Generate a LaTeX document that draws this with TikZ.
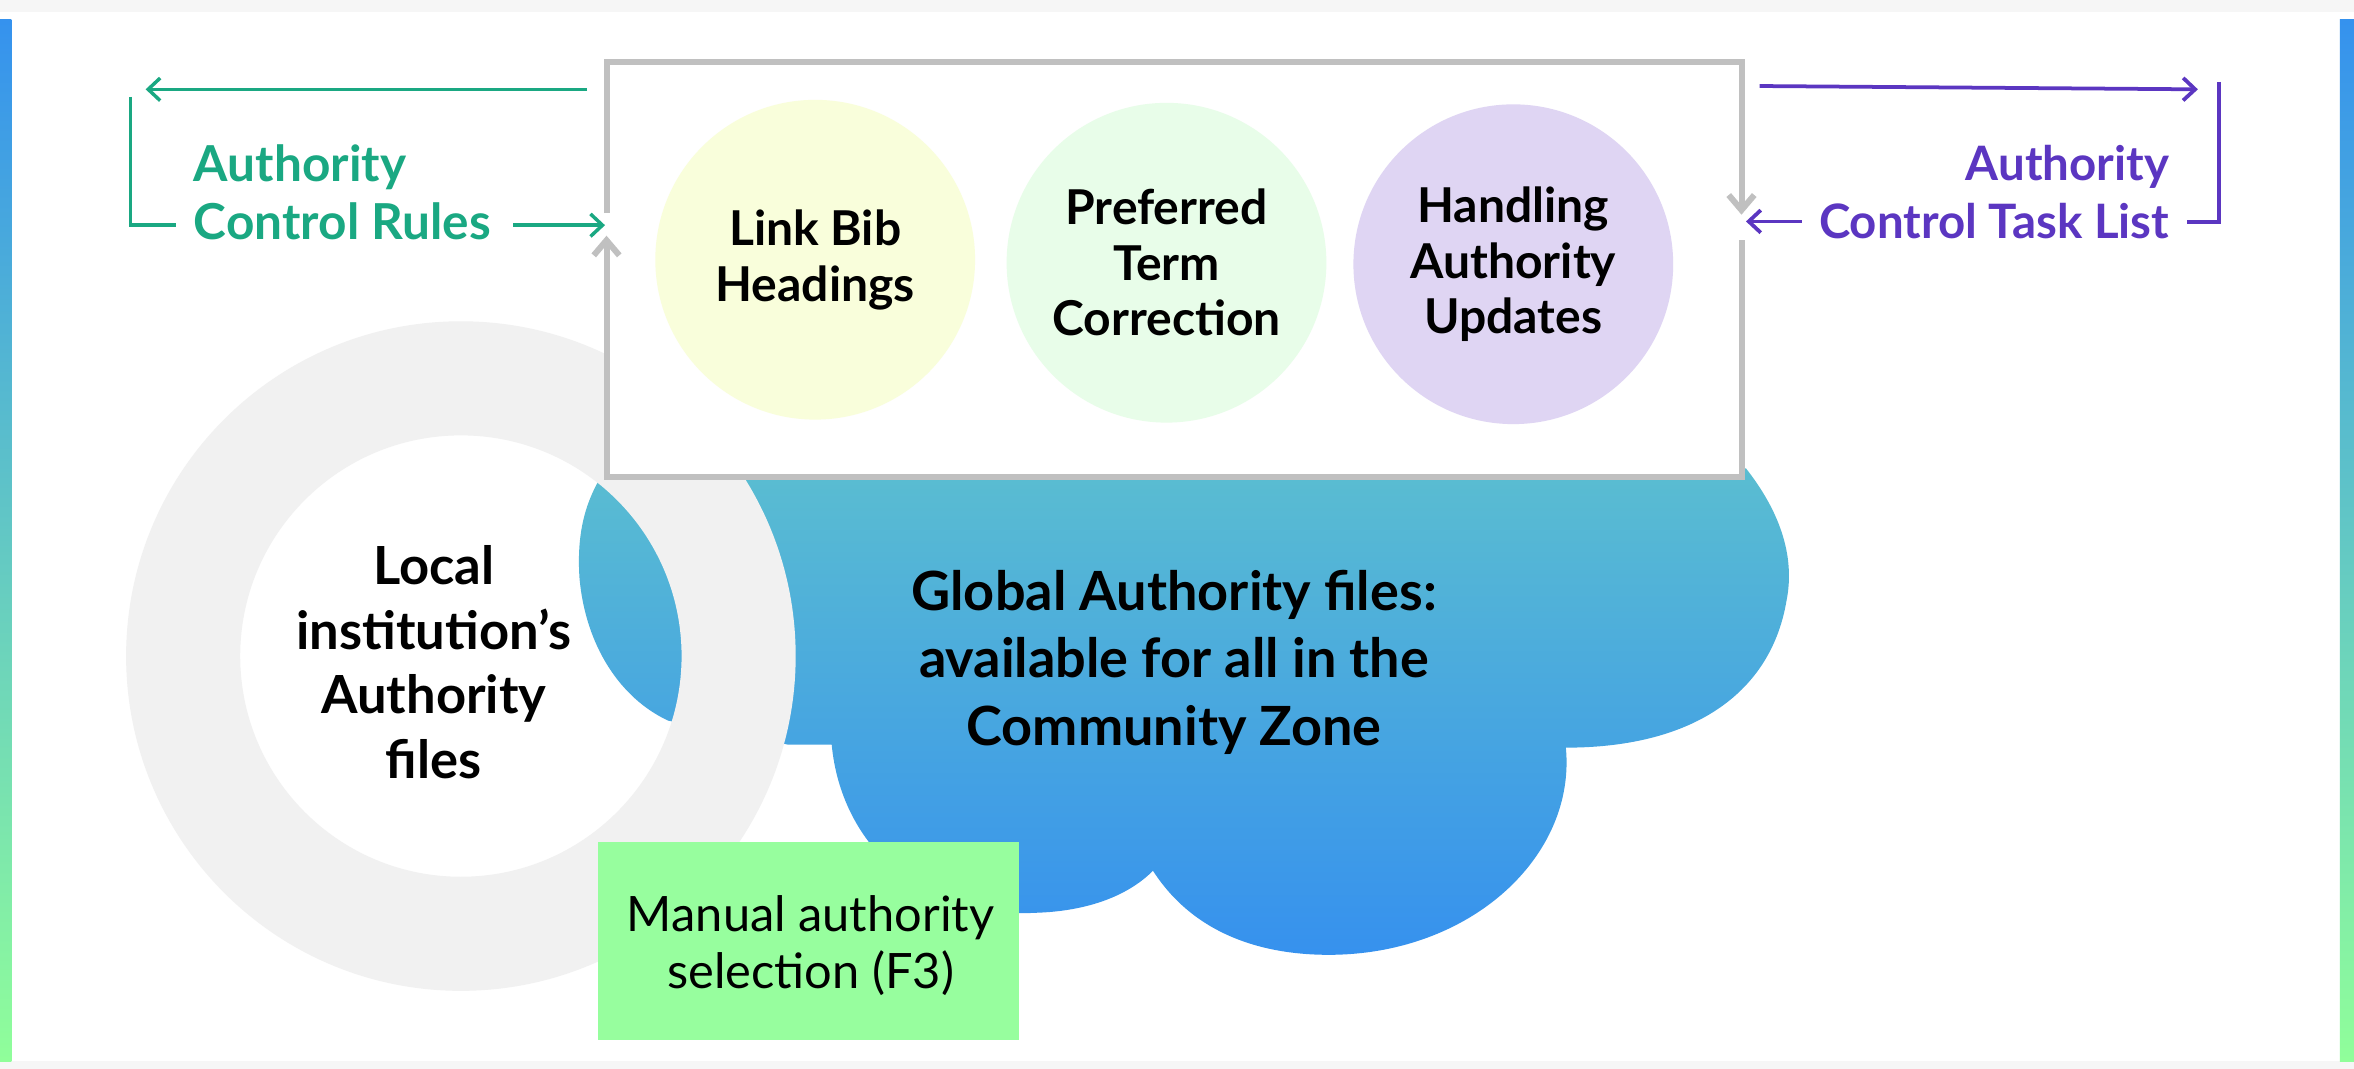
\documentclass[tikz,border=0pt]{standalone}
\usepackage{fontspec}
\setmainfont{Lato}
\usetikzlibrary{arrows.meta}
\definecolor{tgreen}{RGB}{26,168,130}
\definecolor{tpurple}{RGB}{91,54,193}
\definecolor{boxgray}{RGB}{192,192,192}
\definecolor{ringgray}{RGB}{241,241,241}
\definecolor{cyellow}{RGB}{249,254,219}
\definecolor{cmint}{RGB}{232,253,233}
\definecolor{clav}{RGB}{223,213,243}
\definecolor{cloudtop}{RGB}{90,189,209}
\definecolor{cloudbot}{RGB}{54,145,238}
\definecolor{manualgreen}{RGB}{151,254,158}
\definecolor{barblue}{RGB}{53,146,238}
\definecolor{bargreen}{RGB}{144,254,154}
\definecolor{pagegray}{RGB}{246,246,246}
\begin{document}
\begin{tikzpicture}[x=1pt,y=-1pt,
  circ/.style={circle, minimum size=213pt, inner sep=0pt, align=center,
    font=\bfseries\fontsize{32}{37}\selectfont},
  gline/.style={draw=tgreen, line width=2.3pt},
  pline/.style={draw=tpurple, line width=2.5pt},
  boxline/.style={draw=boxgray, line width=4pt},
  gtip/.style={-{Straight Barb[length=8pt,width=15pt,line width=2.3pt]}},
  ptip/.style={-{Straight Barb[length=8pt,width=15pt,line width=2.5pt]}},
  btip/.style={-{Straight Barb[length=10pt,width=17pt,line width=4pt]}},
  lbl/.style={inner sep=0pt, font=\bfseries\fontsize{33}{39}\selectfont}
]
\useasboundingbox (0,0) rectangle (1568,712);
% page
\fill[pagegray] (0,0) rectangle (1568,712);
\fill[white] (0,8) rectangle (1568,707);
\shade[top color=barblue, bottom color=bargreen] (0,13) rectangle (7.5,707);
\shade[top color=barblue, bottom color=bargreen] (1558.5,13) rectangle (1568,707);

% cloud
\shade[top color=cloudtop, bottom color=cloudbot]
  (400,312) -- (1163,312)
  .. controls (1185,340) and (1196,370) .. (1190,400)
  .. controls (1180,460) and (1130,498) .. (1043,498)
  .. controls (1050,570) and (980,636) .. (885,636)
  .. controls (840,636) and (795,622) .. (768,580)
  .. controls (750,598) and (722,607) .. (690,608)
  .. controls (610,612) and (560,560) .. (554,496)
  -- (525,496) -- (445,480)
  .. controls (413,465) and (390,430) .. (386,385)
  .. controls (384,355) and (390,335) .. (400,318) -- cycle;

% ring
\fill[ringgray, even odd rule] (307,437) circle (223) (307,437) circle (147);

% box
\node[fill=white, minimum width=756pt, minimum height=277pt, inner sep=0pt] (box) at (782,179.5) {};
\coordinate (bA) at (404,142);
\coordinate (bB) at (404,41);
\coordinate (bC) at (1160,41);
\coordinate (bD) at (1160,143);
\coordinate (bE) at (1160,160);
\coordinate (bF) at (1160,318);
\coordinate (bG) at (404,318);
\coordinate (bH) at (404,157);
\draw[boxline, btip] (bA) -- (bB) -- (bC) -- (bD);
\draw[boxline, btip] (bE) -- (bF) -- (bG) -- (bH);

% circles
\node[circ, fill=cyellow] (c1) at (543,173) {Link Bib\\Headings};
\node[circ, fill=cmint] (c2) at (777,175) {Preferred\\Term\\Correction};
\node[circ, fill=clav] (c3) at (1008,176) {Handling\\Authority\\Updates};

% texts
\node[lbl, align=center, font=\bfseries\fontsize{35}{43}\selectfont] (local) at (289,441) {Local\\institution’s\\Authority\\files};
\node[lbl, align=center, font=\bfseries\fontsize{36}{45}\selectfont] (global) at (782,441) {Global Authority files:\\available for all in the\\Community Zone};
\node[fill=manualgreen, minimum width=281pt, minimum height=132pt, inner sep=0pt] (manual) at (538.5,627) {};
\node[inner sep=0pt, align=center, font=\fontsize{32.5}{38}\selectfont] (manualtext) at (540,630) {Manual authority\\selection (F3)};

% green rules
\node[lbl, anchor=west, align=left, text=tgreen] (rules) at (129,128) {Authority\\Control Rules};
\coordinate (g1) at (391,59.5);
\coordinate (g2) at (97,59.5);
\coordinate (g3) at (87,64.5);
\coordinate (g4) at (87,150);
\coordinate (g5) at (117,150);
\coordinate (g6) at (342,150);
\coordinate (g7) at (403,150);
\draw[gline, gtip] (g1) -- (g2);
\draw[gline] (g3) -- (g4) -- (g5);
\draw[gline, gtip] (g6) -- (g7);

% purple task list
\node[lbl, anchor=east, align=right, text=tpurple, font=\bfseries\fontsize{31.6}{38.5}\selectfont] (tasks) at (1445,128) {Authority\\Control Task List};
\coordinate (p1) at (1172,57.3);
\coordinate (p2) at (1464,59.5);
\coordinate (p3) at (1478,54.5);
\coordinate (p4) at (1478,148);
\coordinate (p5) at (1457,148);
\coordinate (p6) at (1200,147.5);
\coordinate (p7) at (1163,147.5);
\draw[pline, ptip] (p1) -- (p2);
\draw[pline] (p3) -- (p4) -- (p5);
\draw[pline, ptip] (p6) -- (p7);
\end{tikzpicture}
\end{document}
